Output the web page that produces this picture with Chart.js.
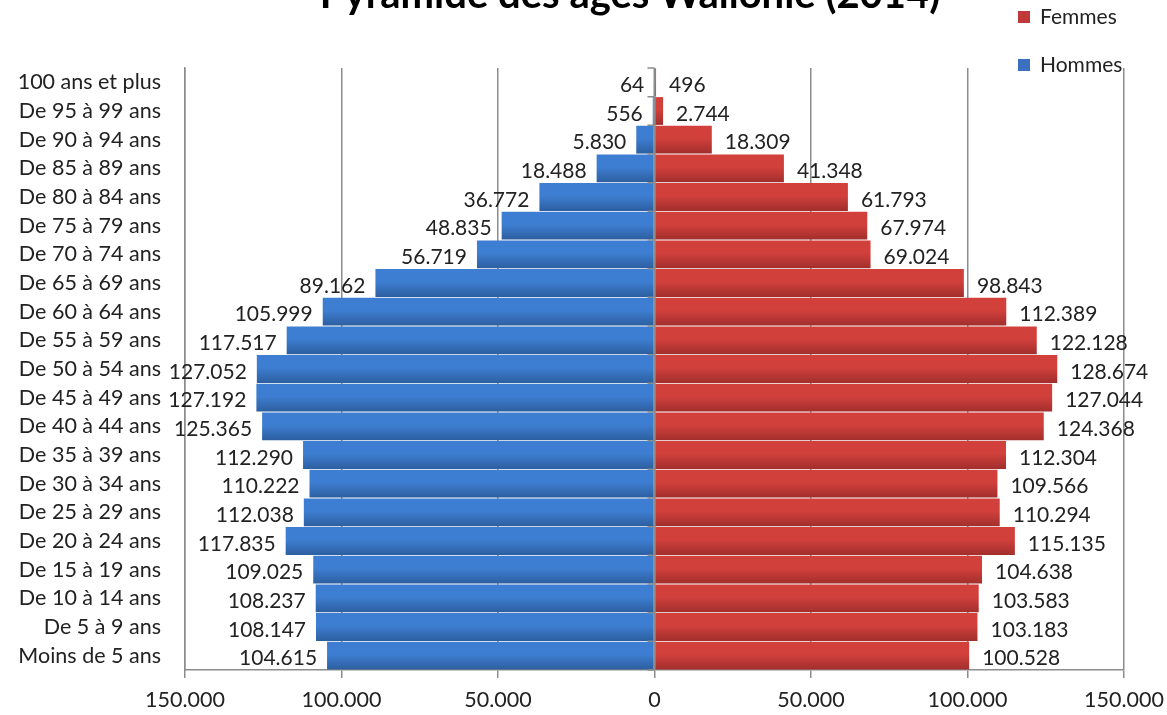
<!DOCTYPE html>
<html>
<head>
<meta charset="utf-8">
<script src="https://cdn.jsdelivr.net/npm/chart.js@4.4.1/dist/chart.umd.min.js"></script>
<style>
    html, body { margin: 0; padding: 0; background: #fff; overflow: hidden; }
    #wrap { position: relative; width: 1167px; height: 715px; }
    #title {
        position: absolute; left: 0; width: 1260px; top: -31px;
        text-align: center; font: bold 40px Lato, sans-serif; color: #000;
        white-space: nowrap;
    }
    #legend { position: absolute; left: 1018px; top: 3px; font: 21px Lato, sans-serif; color: #222; }
    #legend div { height: 48px; display: flex; align-items: flex-start; }
    #legend span.box { display: inline-block; width: 12px; height: 12px; margin: 8px 10px 0 0; }
</style>
</head>
<body>
<div id="wrap">
    <canvas id="chart" width="1167" height="715"></canvas>
    <div id="title">Pyramide des âges Wallonie (2014)</div>
    <div id="legend"></div>
</div>
<script>
// ============================================
// Data
// ============================================
const ageGroups = [
    '100 ans et plus', 'De 95 à 99 ans', 'De 90 à 94 ans', 'De 85 à 89 ans',
    'De 80 à 84 ans', 'De 75 à 79 ans', 'De 70 à 74 ans', 'De 65 à 69 ans',
    'De 60 à 64 ans', 'De 55 à 59 ans', 'De 50 à 54 ans', 'De 45 à 49 ans',
    'De 40 à 44 ans', 'De 35 à 39 ans', 'De 30 à 34 ans', 'De 25 à 29 ans',
    'De 20 à 24 ans', 'De 15 à 19 ans', 'De 10 à 14 ans', 'De 5 à 9 ans',
    'Moins de 5 ans'
];
const hommes = [
    64, 556, 5830, 18488, 36772, 48835, 56719, 89162, 105999, 117517, 127052,
    127192, 125365, 112290, 110222, 112038, 117835, 109025, 108237, 108147, 104615
];
const femmes = [
    496, 2744, 18309, 41348, 61793, 67974, 69024, 98843, 112389, 122128, 128674,
    127044, 124368, 112304, 109566, 110294, 115135, 104638, 103583, 103183, 100528
];
const axisTicks = [-150000, -100000, -50000, 0, 50000, 100000, 150000];

const FONT = 'Lato, sans-serif';

// "127052" -> "127.052"
const fmt = v => String(Math.abs(v)).replace(/\B(?=(\d{3})+(?!\d))/g, '.');

/**
 * Vertical gradient for each bar row (lighter top, darker bottom)
 */
function barGradient(top, bottom) {
    return c => {
        const chart = c.chart;
        const area = chart.chartArea;
        if (!area || c.dataIndex === undefined) return top;
        const band = (area.bottom - area.top) / ageGroups.length;
        const yc = chart.scales.y.getPixelForValue(c.dataIndex);
        const g = chart.ctx.createLinearGradient(0, yc - band / 2, 0, yc + band / 2);
        g.addColorStop(0, top);
        g.addColorStop(0.45, top);
        g.addColorStop(1, bottom);
        return g;
    };
}

const series = [
    { label: 'Femmes', data: femmes, top: '#d2403c', bottom: '#a02e2c', swatch: '#c0393a' },
    { label: 'Hommes', data: hommes.map(v => -v), top: '#3e7ed2', bottom: '#2c5e9e', swatch: '#3a70bf' }
];

// Labels next to the bar ends
const valueLabels = {
    id: 'valueLabels',
    afterDatasetsDraw(chart) {
        const ctx = chart.ctx;
        ctx.save();
        ctx.font = '21px ' + FONT;
        ctx.fillStyle = '#222';
        ctx.textBaseline = 'middle';
        chart.data.datasets.forEach((ds, di) => {
            chart.getDatasetMeta(di).data.forEach((bar, i) => {
                const v = ds.data[i];
                if (v < 0) {
                    ctx.textAlign = 'right';
                    ctx.fillText(fmt(v), bar.x - 10, bar.y + 3);
                } else {
                    ctx.textAlign = 'left';
                    ctx.fillText(fmt(v), bar.x + 13, bar.y + 3);
                }
            });
        });
        // small category ticks on the zero axis
        const area = chart.chartArea;
        const x0 = chart.scales.x.getPixelForValue(0);
        const band = (area.bottom - area.top) / ageGroups.length;
        ctx.strokeStyle = '#8c8c8c';
        ctx.lineWidth = 1.5;
        ctx.beginPath();
        ctx.moveTo(x0, area.top);
        ctx.lineTo(x0, area.bottom);
        for (let i = 0; i <= ageGroups.length; i++) {
            ctx.moveTo(x0 - 7, area.top + i * band);
            ctx.lineTo(x0, area.top + i * band);
        }
        ctx.stroke();
        ctx.restore();
    }
};

// HTML legend
document.getElementById('legend').innerHTML = series
    .map(s => `<div><span class="box" style="background:${s.swatch}"></span>${s.label}</div>`)
    .join('');

new Chart(document.getElementById('chart'), {
    type: 'bar',
    data: {
        labels: ageGroups,
        datasets: series.map(s => ({
            label: s.label,
            data: s.data,
            backgroundColor: barGradient(s.top, s.bottom),
            borderWidth: 0,
            barPercentage: 0.97,
            categoryPercentage: 1
        }))
    },
    options: {
        indexAxis: 'y',
        responsive: false,
        animation: false,
        layout: { padding: { top: 68, right: 43, left: 0, bottom: 0 } },
        scales: {
            x: {
                stacked: true,
                min: -150000,
                max: 150000,
                afterBuildTicks: scale => { scale.ticks = axisTicks.map(v => ({ value: v })); },
                afterFit: scale => {
                    scale.height = 45;
                    scale.paddingLeft = 0;
                    scale.paddingRight = 0;
                },
                ticks: {
                    callback: v => fmt(v),
                    font: { family: FONT, size: 21.5 },
                    color: '#222',
                    padding: 9,
                    maxRotation: 0
                },
                grid: { color: '#8c8c8c', lineWidth: 1.5, tickLength: 8 },
                border: { color: '#8c8c8c', width: 1.5 }
            },
            y: {
                stacked: true,
                afterFit: scale => { scale.width = 185; },
                ticks: {
                    font: { family: FONT, size: 21.5 },
                    color: '#222',
                    padding: 24,
                    autoSkip: false
                },
                grid: { display: false, drawTicks: false },
                border: { color: '#8c8c8c', width: 1.5 }
            }
        },
        plugins: {
            legend: { display: false },
            tooltip: { enabled: false }
        }
    },
    plugins: [valueLabels]
});
</script>
</body>
</html>
